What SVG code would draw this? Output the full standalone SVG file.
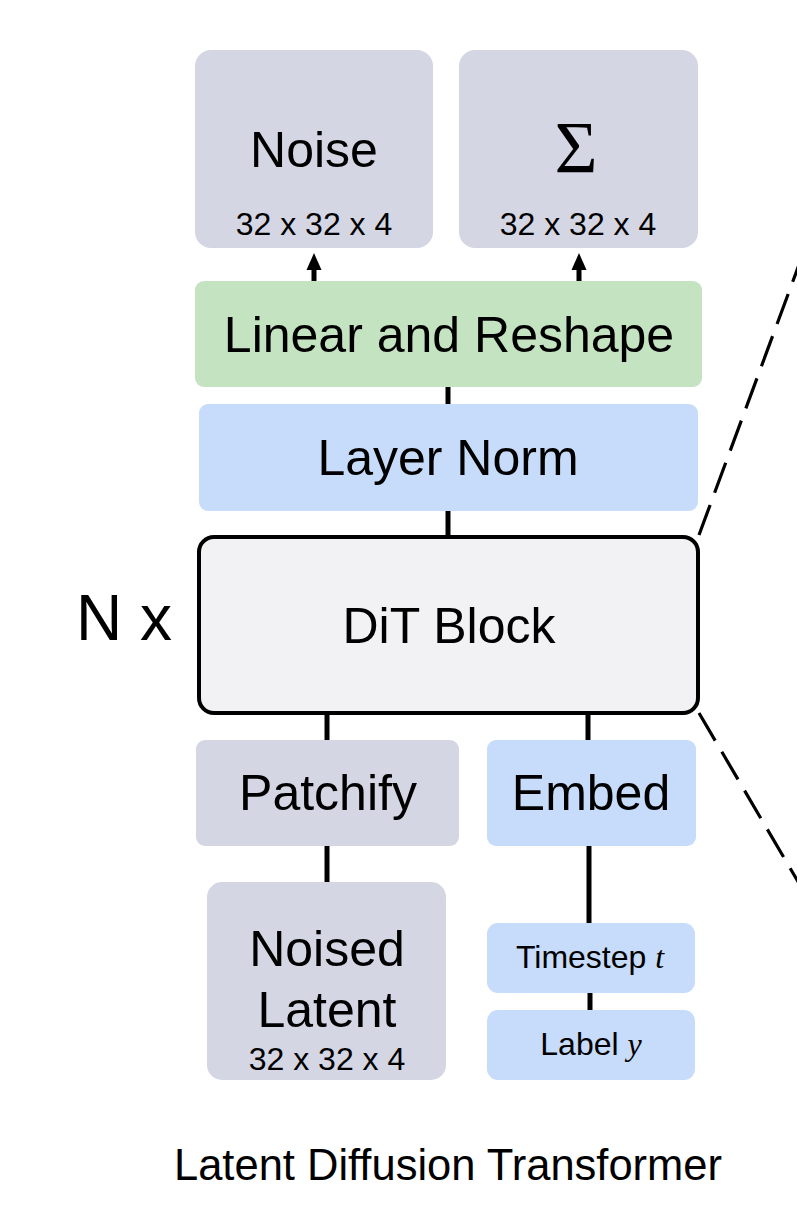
<svg xmlns="http://www.w3.org/2000/svg" width="797" height="1214" viewBox="0 0 797 1214">
<style>
  .t { font-family: "Liberation Sans", Arial, Helvetica, sans-serif; fill: #000; text-anchor: middle; }
  .m { font-family: "Liberation Serif", "Times New Roman", serif; font-style: italic; }
  .gray { fill: #d5d6e4; }
  .green { fill: #c4e3c1; }
  .blue { fill: #c7dbfa; }
  .conn { stroke: #000; stroke-width: 5; fill: none; }
  .head { fill: #000; }
  .dash { stroke: #000; stroke-width: 3.2; fill: none; stroke-dasharray: 32 13; }
</style>
<rect width="797" height="1214" fill="#fff"/>

<g id="connectors">
  <line class="conn" x1="314" y1="282" x2="314" y2="266"/>
  <polygon class="head" points="314,253 306.5,270 321.5,270"/>
  <line class="conn" x1="579" y1="282" x2="579" y2="266"/>
  <polygon class="head" points="579,253 571.5,270 586.5,270"/>
  <line class="conn" x1="448" y1="386" x2="448" y2="406"/>
  <line class="conn" x1="448" y1="509" x2="448" y2="538"/>
  <line class="conn" x1="327" y1="712" x2="327" y2="741"/>
  <line class="conn" x1="327" y1="845" x2="327" y2="883"/>
  <line class="conn" x1="588" y1="712" x2="588" y2="741"/>
  <line class="conn" x1="589" y1="845" x2="589" y2="924"/>
  <line class="conn" x1="590" y1="992" x2="590" y2="1011"/>
  <line class="dash" x1="699" y1="535" x2="800" y2="262"/>
  <line class="dash" x1="699" y1="713" x2="800" y2="885"/>
</g>

<g id="noise">
  <rect class="gray" x="195" y="50" width="238" height="198" rx="16"/>
  <text class="t" x="314" y="167" font-size="50">Noise</text>
  <text class="t" x="314" y="235" font-size="32">32 x 32 x 4</text>
</g>

<g id="sigma">
  <rect class="gray" x="459" y="50" width="239" height="198" rx="16"/>
  <text x="576" y="173" font-size="74" font-family="'Liberation Serif', 'Times New Roman', serif" text-anchor="middle">Σ</text>
  <text class="t" x="578" y="235" font-size="32">32 x 32 x 4</text>
</g>

<g id="linear-reshape">
  <rect class="green" x="195" y="281" width="507" height="106" rx="9"/>
  <text class="t" x="449" y="352" font-size="50">Linear and Reshape</text>
</g>

<g id="layer-norm">
  <rect class="blue" x="199" y="404" width="499" height="107" rx="9"/>
  <text class="t" x="448" y="475" font-size="50">Layer Norm</text>
</g>

<g id="dit-block">
  <rect x="199" y="537" width="499" height="176" rx="15" fill="#f2f2f4" stroke="#000" stroke-width="4"/>
  <text class="t" x="449" y="643" font-size="50">DiT Block</text>
</g>

<g id="n-x">
  <text x="76" y="640" font-size="64" font-family="'Liberation Sans', Arial, sans-serif">N x</text>
</g>

<g id="patchify">
  <rect class="gray" x="196" y="740" width="263" height="106" rx="9"/>
  <text class="t" x="328" y="810" font-size="50">Patchify</text>
</g>

<g id="embed">
  <rect class="blue" x="487" y="740" width="209" height="106" rx="9"/>
  <text class="t" x="591" y="810" font-size="50">Embed</text>
</g>

<g id="noised-latent">
  <rect class="gray" x="207" y="882" width="239" height="198" rx="15"/>
  <text class="t" x="327" y="966" font-size="50">Noised</text>
  <text class="t" x="327" y="1027" font-size="50">Latent</text>
  <text class="t" x="327" y="1070" font-size="32">32 x 32 x 4</text>
</g>

<g id="timestep">
  <rect class="blue" x="487" y="923" width="208" height="70" rx="11"/>
  <text class="t" x="590" y="968" font-size="32">Timestep <tspan class="m">t</tspan></text>
</g>

<g id="label">
  <rect class="blue" x="487" y="1010" width="208" height="70" rx="11"/>
  <text class="t" x="591" y="1055" font-size="32">Label <tspan class="m">y</tspan></text>
</g>

<g id="title">
  <text class="t" x="448" y="1180" font-size="43.5">Latent Diffusion Transformer</text>
</g>
</svg>
